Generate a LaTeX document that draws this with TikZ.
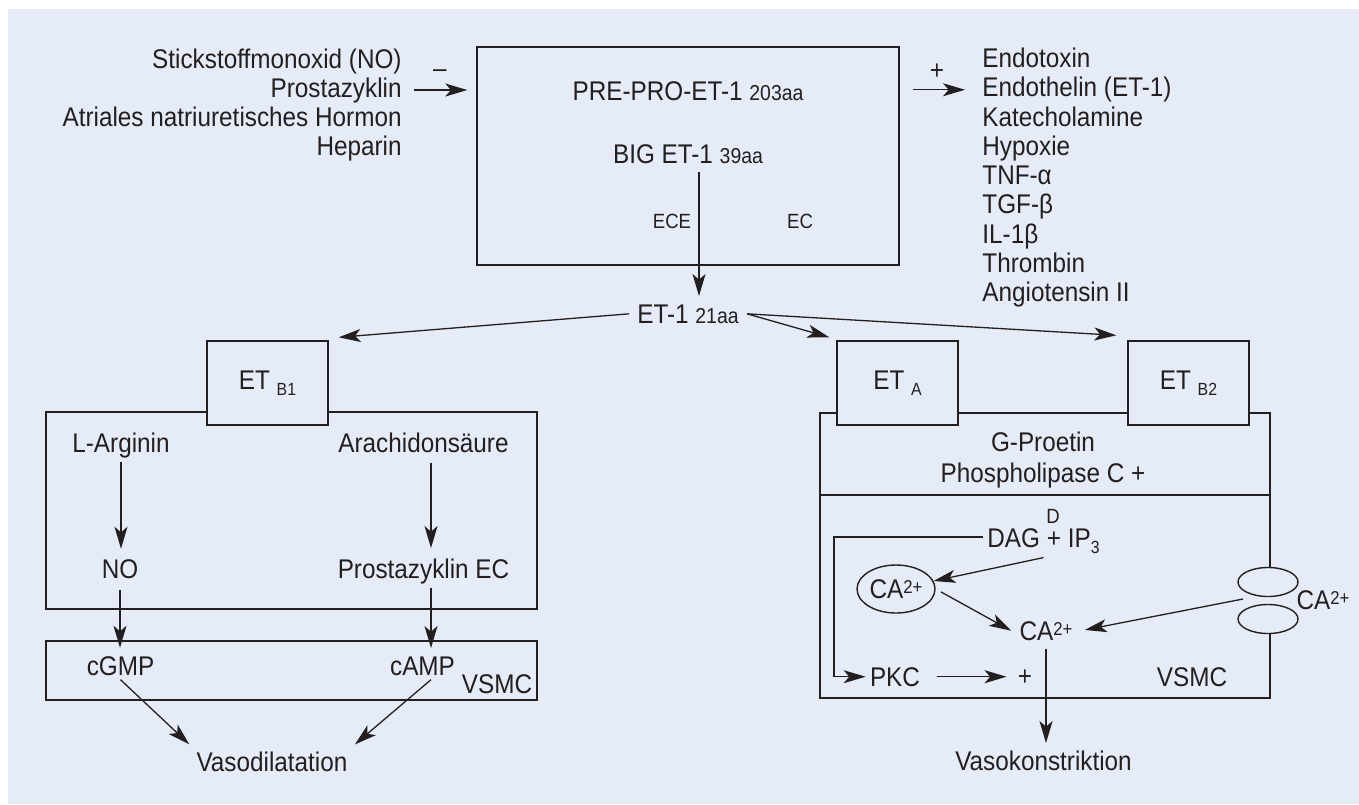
\documentclass[tikz,border=0pt]{standalone}
\usepackage{fontspec}
\setmainfont{Liberation Sans}[FakeStretch=0.9]
\usetikzlibrary{arrows.meta,calc,shapes.geometric}
\definecolor{bg}{HTML}{E5ECF7}
\definecolor{ink}{HTML}{231F20}
\newcommand{\smallfs}{\fontsize{10.8}{12}\selectfont}
\newcommand{\mysub}[1]{\raisebox{-3pt}{\fontsize{8.8}{9}\selectfont #1}}
\newcommand{\mysup}[1]{\raisebox{2.4pt}{\fontsize{9.3}{9}\selectfont #1}}
\begin{document}
\begin{tikzpicture}[x=0.5pt,y=-0.5pt,
  every node/.style={text=ink,font=\fontsize{13.5}{15}\selectfont,inner sep=2pt},
  ln/.style={draw=ink,line width=0.65pt},
  arr/.style={ln,-{Stealth[length=11pt,width=6.5pt,inset=2.8pt]}},
  frame/.style={draw=ink,line width=0.7pt,inner sep=0pt},
  recbox/.style={frame,fill=bg,minimum width=60.5pt,minimum height=42pt},
  lab/.style={anchor=base},
  lbl/.style={anchor=base west},
  lbr/.style={anchor=base east},
  smalltxt/.style={anchor=base,font=\fontsize{10.3}{12}\selectfont},
]
\useasboundingbox (0,0) rectangle (1359,804);
\fill[white] (0,0) rectangle (1359,804);
\fill[bg] (8,9) rectangle (1359,804);

% left inhibitors
\node[lbr] (l1) at (406,68) {Stickstoffmonoxid (NO)};
\node[lbr] (l2) at (406,97) {Prostazyklin};
\node[lbr] (l3) at (406,126) {Atriales natriuretisches Hormon};
\node[lbr] (l4) at (406,155) {Heparin};
\node[lab] (minus) at (440,77) {\textendash};

% top box
\node[frame,minimum width=211pt,minimum height=109pt] (topbox) at (688,156) {};
\node[lab] (prepro) at (688,100) {PRE-PRO-ET-1 {\smallfs 203aa}};
\node[lab,inner sep=4pt] (big) at (688,163) {BIG ET-1 {\smallfs 39aa}};
\node[smalltxt] (ece) at (672,228) {ECE};
\node[smalltxt] (ec) at (800,228) {EC};

% right promoters
\node (plus) at (937,72) {+};
\foreach [count=\i] \t in {Endotoxin,Endothelin (ET-1),Katecholamine,Hypoxie,TNF-α,TGF-β,IL-1β,Thrombin,Angiotensin II}
  \node[lbl] (r\i) at (978,{67.5+29.25*(\i-1)}) {\t};

\draw[arr,shorten <=4pt,shorten >=4.5pt] (l2.east) -- (l2.east -| topbox.west);
\draw[arr,shorten <=6.5pt,shorten >=6.5pt] (topbox.east |- r2.west) -- (r2.west);

% ET-1
\node[lab,inner sep=4pt] (et1) at (688,323) {ET-1 {\smallfs 21aa}};
\draw[arr] ([xshift=5.5pt]big.south) -- ([xshift=5.5pt]et1.north);

% frames
\node[frame,minimum width=245.5pt,minimum height=98.5pt] (lbox) at (291.5,510.5) {};
\node[frame,minimum width=245.5pt,minimum height=29.5pt] (vbox) at (291.5,670.5) {};
\draw[frame] (1270,567) -- (1270,413) -- (820,413) -- (820,698) -- (1270,698) -- (1270,633);
\draw[frame] (820,495) -- (1270,495);

% receptors
\node[recbox] (etb1) at (267.5,383) {ET \mysub{B1}};
\node[recbox] (eta) at (897.5,383) {ET \mysub{A}};
\node[recbox] (etb2) at (1188.5,383) {ET \mysub{B2}};

\draw[arr] (et1.west) -- ($(etb1.north east)+(10,-3)$);
\draw[arr] (et1.east) -- ($(eta.north west)+(-7,-3)$);
\draw[arr] (et1.east) -- ($(etb2.north west)+(-11,-5)$);

% left pathway
\node[lab] (larg) at (121,452) {L-Arginin};
\node[lab] (arach) at (423.5,452) {Arachidonsäure};
\node[lab] (no) at (120,578) {NO};
\node[lab] (prost) at (423.5,578) {Prostazyklin EC};
\node[lab] (cgmp) at (120.5,675) {cGMP};
\node[lab] (camp) at (422.5,675) {cAMP};
\node[lab] (vsmc1) at (497,693) {VSMC};
\node[lab] (vaso) at (272,771) {Vasodilatation};

\draw[arr,shorten >=3pt] (larg.south) -- (larg.south |- no.north);
\coordinate (ax) at ([xshift=3.75pt]arach.south);
\draw[arr,shorten <=3pt,shorten >=3pt] (ax) -- (ax |- prost.north);
\draw[arr,shorten <=3.5pt,shorten >=2pt] (no.south) -- (no.south |- cgmp.north);
\coordinate (px) at ([xshift=3.75pt]prost.south);
\draw[arr,shorten >=2pt] (px) -- (px |- camp.north);
\draw[arr,shorten >=2pt] (cgmp.south) -- (vaso.north west);
\draw[arr,shorten >=2pt] ([xshift=4.25pt]camp.south) -- (vaso.north east);

% right pathway
\node[lab] (gp) at (1043,451) {G-Proetin};
\node[lab] (plc) at (1043,482) {Phospholipase C +};
\node[smalltxt] (dlab) at (1053,523) {D};
\node[lab] (dag) at (1043.5,547) {DAG + IP\mysub{3}};
\coordinate (bend) at (834,537);
\node[lab] (pkc) at (895,686) {PKC};
\draw[arr] (bend -| dag.west) -- (bend) |- (pkc.west);
\node (pl2) at (1025,678) {+};
\draw[arr,shorten <=6.5pt,shorten >=3.5pt] (pkc.east) -- (pkc.east -| pl2.west);
\node[lab] (vsmc2) at (1192,686) {VSMC};

\node[frame,ellipse,minimum width=39pt,minimum height=24pt] (caell) at (896,589) {CA\mysup{2+}};
\node[lab,inner sep=4pt] (ca) at (1046,640) {CA\mysup{2+}};
\node[frame,ellipse,fill=bg,minimum width=30pt,minimum height=14.5pt] (ch1) at (1268,582) {};
\node[frame,ellipse,fill=bg,minimum width=30pt,minimum height=14.5pt] (ch2) at (1268,619) {};
\node[lab] (caout) at (1323,609) {CA\mysup{2+}};
\coordinate (chin) at (1243,599);

\draw[arr,shorten >=2pt] (chin) -- (ca.east);
\draw[arr] (dag.south) -- (caell);
\draw[arr,shorten <=3pt] (caell.east) -- (ca.west);
\node[lab] (vaso2) at (1043.5,770) {Vasokonstriktion};
\draw[arr,shorten >=1.5pt] (ca.south) -- (ca.south |- vaso2.north);
\end{tikzpicture}
\end{document}
